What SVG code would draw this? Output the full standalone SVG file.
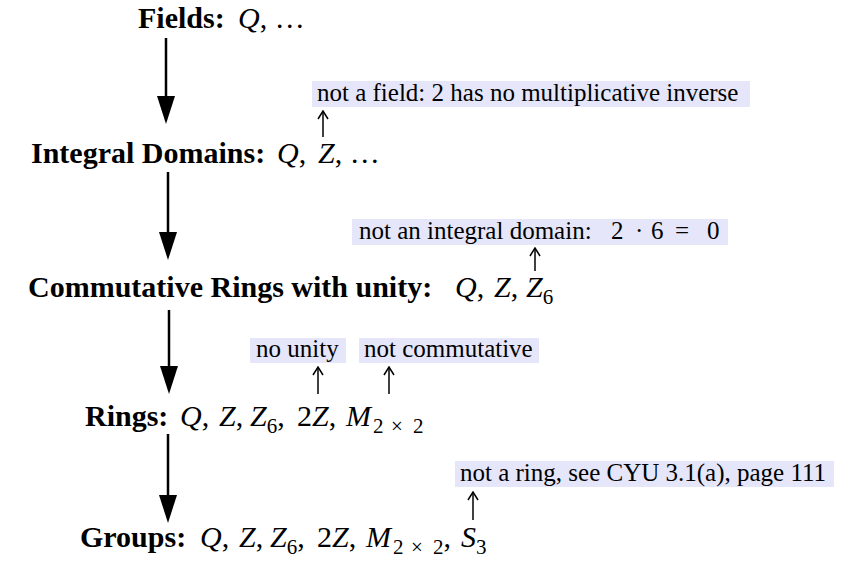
<svg xmlns="http://www.w3.org/2000/svg" width="862" height="562" viewBox="0 0 862 562">
<style>
text{font-family:"Liberation Serif","Times New Roman",serif;fill:#000}
.main{font-size:30px}
.b{font-weight:bold}
.i{font-style:italic}
.sub{font-size:21px}
.lab{font-size:25px}
.box{fill:#e6e6fa}
.big{stroke:#000;stroke-width:2.5;fill:none}
.thin{stroke:#000;stroke-width:1.5;fill:none}
</style>
<defs>
<marker id="head" markerUnits="userSpaceOnUse" markerWidth="28" markerHeight="18" viewBox="0 0 28 18" refX="18" refY="9" orient="auto">
<path d="M0,0 L28,9 L0,18 z" fill="#000"/>
</marker>
<marker id="open" markerUnits="userSpaceOnUse" markerWidth="10" markerHeight="12" viewBox="0 0 10 12" refX="9" refY="6" orient="auto">
<path d="M1,1 L9,6 L1,11" fill="none" stroke="#000" stroke-width="1.5"/>
</marker>
</defs>

<g id="node-fields">
<text class="main" x="138" y="28"><tspan class="b">Fields:</tspan><tspan class="i" x="238">Q</tspan>, …</text>
</g>
<g id="node-integral-domains">
<text class="main" x="31" y="163"><tspan class="b">Integral Domains:</tspan><tspan class="i" x="277">Q</tspan>,<tspan class="i" x="318">Z</tspan>, …</text>
</g>
<g id="node-commutative-rings">
<text class="main" x="28" y="297"><tspan class="b">Commutative Rings with unity:</tspan><tspan class="i" x="455">Q</tspan>,<tspan class="i" x="494">Z</tspan>,<tspan class="i" x="526">Z</tspan><tspan class="sub" dy="7">6</tspan></text>
</g>
<g id="node-rings">
<text class="main" x="85" y="426"><tspan class="b">Rings:</tspan><tspan class="i" x="180">Q</tspan>,<tspan class="i" x="219">Z</tspan>,<tspan class="i" x="250">Z</tspan><tspan class="sub" dy="7">6</tspan><tspan dy="-7">,</tspan><tspan x="297">2</tspan><tspan class="i">Z</tspan>,<tspan class="i" x="346">M</tspan><tspan class="sub" dy="7" x="373">2</tspan><tspan class="sub" x="391">×</tspan><tspan class="sub" x="413">2</tspan></text>
</g>
<g id="node-groups">
<text class="main" x="80" y="547"><tspan class="b">Groups:</tspan><tspan class="i" x="200">Q</tspan>,<tspan class="i" x="239">Z</tspan>,<tspan class="i" x="270">Z</tspan><tspan class="sub" dy="7">6</tspan><tspan dy="-7">,</tspan><tspan x="317">2</tspan><tspan class="i">Z</tspan>,<tspan class="i" x="366">M</tspan><tspan class="sub" dy="7" x="393">2</tspan><tspan class="sub" x="411">×</tspan><tspan class="sub" x="433">2</tspan><tspan dy="-7">,</tspan><tspan class="i" x="461">S</tspan><tspan class="sub" dy="7">3</tspan></text>
</g>

<g id="note-not-field">
<rect class="box" x="312" y="81" width="438" height="26"/>
<text class="lab" x="317" y="101">not a field: 2 has no multiplicative inverse</text>
</g>
<g id="note-not-integral-domain">
<rect class="box" x="352" y="219" width="376" height="26"/>
<text class="lab" y="239"><tspan x="359">not an integral domain:</tspan><tspan x="611">2</tspan><tspan x="635">·</tspan><tspan x="651">6</tspan><tspan x="675">=</tspan><tspan x="707">0</tspan></text>
</g>
<g id="note-no-unity">
<rect class="box" x="250" y="338" width="96" height="25"/>
<text class="lab" x="256" y="357">no unity</text>
</g>
<g id="note-not-commutative">
<rect class="box" x="359" y="338" width="180" height="25"/>
<text class="lab" x="364" y="357">not commutative</text>
</g>
<g id="note-not-ring">
<rect class="box" x="455" y="461" width="379" height="26"/>
<text class="lab" x="460" y="481">not a ring, see CYU 3.1(a), page 111</text>
</g>

<g id="connectors">
<line class="big" x1="166" y1="38" x2="166" y2="114" marker-end="url(#head)"/>
<line class="big" x1="168" y1="172" x2="168" y2="250" marker-end="url(#head)"/>
<line class="big" x1="169" y1="310" x2="169" y2="384" marker-end="url(#head)"/>
<line class="big" x1="168" y1="434" x2="168" y2="513" marker-end="url(#head)"/>
<line class="thin" x1="323" y1="137" x2="323" y2="111" marker-end="url(#open)"/>
<line class="thin" x1="535" y1="271" x2="535" y2="248" marker-end="url(#open)"/>
<line class="thin" x1="318" y1="394" x2="318" y2="367" marker-end="url(#open)"/>
<line class="thin" x1="389" y1="394" x2="389" y2="367" marker-end="url(#open)"/>
<line class="thin" x1="473" y1="520" x2="473" y2="492" marker-end="url(#open)"/>
</g>
</svg>
